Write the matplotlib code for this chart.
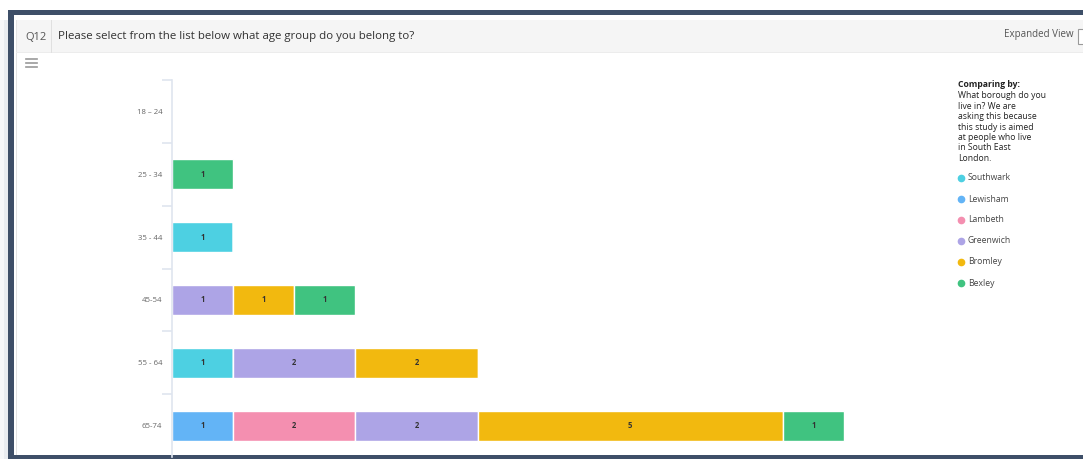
import matplotlib
matplotlib.use("Agg")
from matplotlib import pyplot as plt
from matplotlib.patches import Rectangle
from matplotlib.lines import Line2D
import numpy as np

plt.rcParams['font.family'] = ['Open Sans', 'DejaVu Sans']

# data
age_groups = ['18 \u2013 24', '25 - 34', '35 - 44', '45-54', '55 - 64', '65-74']
boroughs = ['Southwark', 'Lewisham', 'Lambeth', 'Greenwich', 'Bromley', 'Bexley']
southwark = [0, 0, 1, 0, 1, 0]
lewisham = [0, 0, 0, 0, 0, 1]
lambeth = [0, 0, 0, 0, 0, 2]
greenwich = [0, 0, 0, 1, 2, 2]
bromley = [0, 0, 0, 1, 2, 5]
bexley = [0, 1, 0, 1, 0, 1]
colores = ['#4dd0e2', '#63b4f6', '#f48fb0', '#ada4e6', '#f2b90f', '#40c380']

W, H = 1083, 459
fig = plt.figure(figsize=(W / 100, H / 100), dpi=100)
fig.patch.set_facecolor('white')

def rect(x, y, w, h, color, z=0):
    # pixel coords from top-left
    fig.add_artist(Rectangle((x / W, 1 - (y + h) / H), w / W, h / H,
                             transform=fig.transFigure, facecolor=color,
                             edgecolor='none', zorder=z))

def txt(x, y, s, **kw):
    fig.text(x / W, 1 - y / H, s, **kw)

# marco de la captura
rect(0, 20, 8, H - 20, '#f6f7f9', 0)
rect(4, 20, 4, H - 20, '#e9ecf0', 0)
rect(8, 10, W - 8, 5, '#3e4f68', 1)
rect(8, 10, 6, H - 10, '#3e4f68', 1)
rect(8, 455, W - 8, 4, '#3e4f68', 1)
rect(16, 20, W - 16, 33, '#f5f5f5', 1)
rect(16, 20, 1, H - 24, '#e3e3e3', 2)
rect(16, 52, W - 16, 1, '#ececec', 2)
rect(51, 20, 1, 33, '#e0e0e0', 2)

txt(25, 37, 'Q12', fontsize=8, color='#555555', va='center', zorder=3)
txt(58, 37, 'Please select from the list below what age group do you belong to?',
    fontsize=8.25, color='#333333', va='center', zorder=3)
txt(1004, 35, 'Expanded View', fontsize=7, color='#555555', va='center', zorder=3)
fig.add_artist(Rectangle((1078 / W, 1 - 44 / H), 10 / W, 15 / H, transform=fig.transFigure,
                         facecolor='white', edgecolor='#999999', linewidth=0.8, zorder=3))
for yy in [59, 63, 67]:
    fig.add_artist(Line2D([26 / W, 37 / W], [1 - yy / H, 1 - yy / H], transform=fig.transFigure,
                          color='#999999', linewidth=1.2, zorder=3))

# grafico
x0, x1 = 172, 940
y_top, y_bot = 80, 457
ax = fig.add_axes([x0 / W, 1 - y_bot / H, (x1 - x0) / W, (y_bot - y_top) / H])
ax.set_zorder(4)
ax.patch.set_alpha(0)
unidad = 61.1
ax.set_xlim(0, (x1 - x0) / unidad)
ax.set_ylim(len(age_groups) - 0.5, -0.5)

y = np.arange(len(age_groups))
series = [southwark, lewisham, lambeth, greenwich, bromley, bexley]
izq = np.zeros(len(age_groups))
for vals, c, nombre in zip(series, colores, boroughs):
    vals = np.array(vals, dtype=float)
    bars = ax.barh(y, vals, left=izq, height=0.48, color=c, edgecolor='white',
                   linewidth=1, label=nombre)
    for b, v in zip(bars, vals):
        if v > 0:
            ax.text(b.get_x() + b.get_width() / 2, b.get_y() + b.get_height() / 2,
                    '%d' % v, ha='center', va='center', fontsize=5.5,
                    color='#333333', fontweight='bold')
    izq += vals

for s in ['top', 'right', 'bottom']:
    ax.spines[s].set_visible(False)
ax.spines['left'].set_color('#dfe5ef')
ax.spines['left'].set_linewidth(1.2)
ax.set_xticks([])
ax.set_yticks(y)
ax.set_yticklabels(age_groups, fontsize=5.6, color='#666666')
ax.tick_params(axis='y', length=0, pad=7)
ax.set_yticks(np.arange(-0.5, len(age_groups) - 1, 1), minor=True)
ax.tick_params(axis='y', which='minor', length=7, color='#dfe5ef', width=1.2)

# leyenda
txt(958, 85, 'Comparing by:', fontsize=6.2, fontweight='bold', color='#222222', va='center')
lineas = ['What borough do you', 'live in? We are', 'asking this because',
          'this study is aimed', 'at people who live', 'in South East', 'London.']
for i, l in enumerate(lineas):
    txt(958, 96 + i * 10.4, l, fontsize=6.2, color='#222222', va='center')
for i, (nombre, c) in enumerate(zip(boroughs, colores)):
    yy = 178 + i * 21
    fig.add_artist(Line2D([961 / W], [1 - yy / H], marker='o', markersize=4.5,
                          color=c, transform=fig.transFigure, linestyle='none'))
    txt(968, yy, nombre, fontsize=6.2, color='#444444', va='center')

fig.savefig('out.png', dpi=100)
